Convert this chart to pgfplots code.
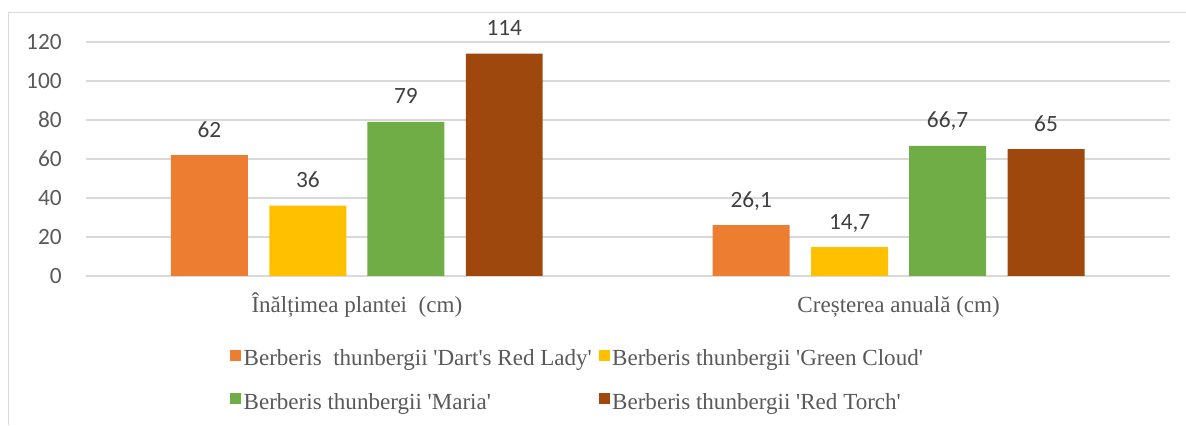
\documentclass[border=0pt]{standalone}
\usepackage{fontspec}
\setmainfont{Liberation Serif}
\newfontfamily\carlito{Carlito}
\usepackage{pgfplots}
\pgfplotsset{compat=1.18}
\definecolor{c1}{HTML}{ED7D31}
\definecolor{c2}{HTML}{FFC000}
\definecolor{c3}{HTML}{70AD47}
\definecolor{c4}{HTML}{9E480E}
\definecolor{gridc}{HTML}{D9D9D9}
\definecolor{textc}{HTML}{595959}
\definecolor{labc}{HTML}{404040}
\newcommand{\q}{\textquotesingle}
\begin{document}
\begin{tikzpicture}
\path (0,0) rectangle (889.5pt,318.75pt);
\draw[color=gridc, line width=0.75pt] (6.75pt,0) -- (6.75pt,309pt) -- (889.5pt,309pt);
\begin{axis}[
  at={(64.5pt,111.75pt)}, anchor=south west,
  width=813pt, height=175.5pt, scale only axis,
  xmin=-0.5, xmax=1.5, ymin=0, ymax=120,
  ytick={0,20,...,120}, xtick={0,1},
  xticklabels={Înălțimea plantei~ (cm), Creșterea anuală (cm)},
  axis line style={draw=none}, major tick length=0pt,
  ymajorgrids, grid style={color=gridc, line width=1.1pt},
  ybar, bar width=57.75pt,
  clip=false,
  /pgf/number format/assume math mode=true,
  /pgf/number format/use comma,
  yticklabel style={font=\carlito\fontsize{17.5}{20}\selectfont, text=textc, inner sep=0pt, xshift=-18pt},
  xticklabel style={font=\fontsize{17.3}{20}\selectfont, text=textc, anchor=base, inner sep=0pt, yshift=-27.75pt},
  nodes near coords,
  nodes near coords style={font=\carlito\fontsize{17.5}{20}\selectfont, text=labc, anchor=base, inner sep=0pt, yshift=13.5pt},
  legend columns=2,
  legend cell align=left,
  legend style={draw=none, fill=none, at={(0.129,-0.292)}, anchor=north west,
    font=\fontsize{17.3}{20}\selectfont, text=textc,
    nodes={text height=12pt, text depth=4pt, inner sep=2pt},
    row sep=12.5pt,
    /tikz/every even column/.append style={column sep=3pt}},
  legend image code/.code={\fill[#1, draw=none] (0pt,-0.4pt) rectangle (8.25pt,7.85pt);},
]
\addplot+[bar shift=-110.6pt, fill=c1, draw=none] coordinates {(0,62) (1,26.1)};
\addplot+[bar shift=-36.75pt, fill=c2, draw=none] coordinates {(0,36) (1,14.7)};
\addplot+[bar shift=36.75pt, fill=c3, draw=none] coordinates {(0,79) (1,66.7)};
\addplot+[bar shift=110.6pt, fill=c4, draw=none] coordinates {(0,114) (1,65)};
\legend{Berberis~ thunbergii \q Dart\q s Red Lady\q, Berberis thunbergii \q Green Cloud\q, Berberis thunbergii \q Maria\q, Berberis thunbergii \q Red Torch\q}
\end{axis}
\end{tikzpicture}
\end{document}
